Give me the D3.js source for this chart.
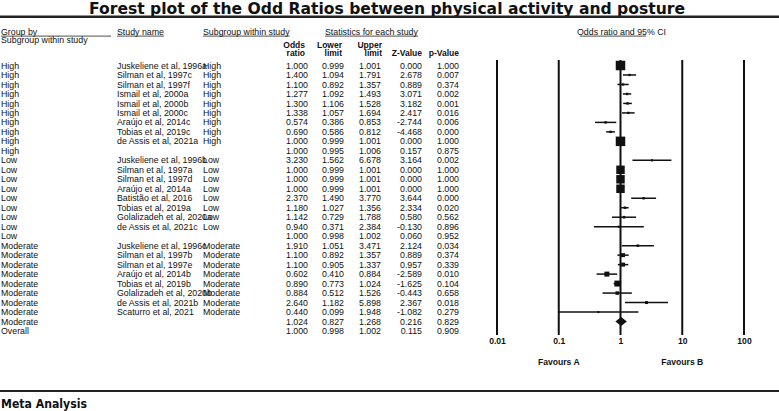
<!DOCTYPE html>
<html>
<head>
<meta charset="utf-8">
<script src="https://cdn.jsdelivr.net/npm/d3@7"></script>
<style>
  body { margin: 0; background: #fff; }
  text { font-family: "Liberation Sans", Arial, sans-serif; fill: #111; }
</style>
</head>
<body>
<div id="chart"></div>
<script>
// Data
const groupBy = [
  "High", "High", "High", "High", "High", "High", "High", "High", "High", "High",
  "Low", "Low", "Low", "Low", "Low", "Low", "Low", "Low", "Low",
  "Moderate", "Moderate", "Moderate", "Moderate", "Moderate", "Moderate", "Moderate", "Moderate", "Moderate",
  "Overall"
]
const studyNames = [
  "Juskeliene et al, 1996a", "Silman et al, 1997c", "Silman et al, 1997f", "Ismail et al, 2000a",
  "Ismail et al, 2000b", "Ismail et al, 2000c", "Araújo et al, 2014c", "Tobias et al, 2019c",
  "de Assis et al, 2021a", "",
  "Juskeliene et al, 1996b", "Silman et al, 1997a", "Silman et al, 1997d", "Araújo et al, 2014a",
  "Batistão et al, 2016", "Tobias et al, 2019a", "Golalizadeh et al, 2020a", "de Assis et al, 2021c", "",
  "Juskeliene et al, 1996c", "Silman et al, 1997b", "Silman et al, 1997e", "Araújo et al, 2014b",
  "Tobias et al, 2019b", "Golalizadeh et al, 2020b", "de Assis et al, 2021b", "Scaturro et al, 2021", "",
  ""
]
const subgroups = [
  "High", "High", "High", "High", "High", "High", "High", "High", "High", "",
  "Low", "Low", "Low", "Low", "Low", "Low", "Low", "Low", "",
  "Moderate", "Moderate", "Moderate", "Moderate", "Moderate", "Moderate", "Moderate", "Moderate", "",
  ""
]
const oddsRatio = [
  1.000, 1.400, 1.100, 1.277, 1.300, 1.338, 0.574, 0.690, 1.000, 1.000,
  3.230, 1.000, 1.000, 1.000, 2.370, 1.180, 1.142, 0.940, 1.000,
  1.910, 1.100, 1.100, 0.602, 0.890, 0.884, 2.640, 0.440, 1.024,
  1.000
]
const lowerLimit = [
  0.999, 1.094, 0.892, 1.092, 1.106, 1.057, 0.386, 0.586, 0.999, 0.995,
  1.562, 0.999, 0.999, 0.999, 1.490, 1.027, 0.729, 0.371, 0.998,
  1.051, 0.892, 0.905, 0.410, 0.773, 0.512, 1.182, 0.099, 0.827,
  0.998
]
const upperLimit = [
  1.001, 1.791, 1.357, 1.493, 1.528, 1.694, 0.853, 0.812, 1.001, 1.006,
  6.678, 1.001, 1.001, 1.001, 3.770, 1.356, 1.788, 2.384, 1.002,
  3.471, 1.357, 1.337, 0.884, 1.024, 1.526, 5.898, 1.948, 1.268,
  1.002
]
const zValue = [
  0.000, 2.678, 0.889, 3.071, 3.182, 2.417, -2.744, -4.468, 0.000, 0.157,
  3.164, 0.000, 0.000, 0.000, 3.644, 2.334, 0.580, -0.130, 0.060,
  2.124, 0.889, 0.957, -2.589, -1.625, -0.443, 2.367, -1.082, 0.216,
  0.115
]
const pValue = [
  1.000, 0.007, 0.374, 0.002, 0.001, 0.016, 0.006, 0.000, 1.000, 0.875,
  0.002, 1.000, 1.000, 1.000, 0.000, 0.020, 0.562, 0.896, 0.952,
  0.034, 0.374, 0.339, 0.010, 0.104, 0.658, 0.018, 0.279, 0.829,
  0.909
]
// relative weight within subgroup
const relWeight = [
  44, 0.2, 0.2, 0.3, 0.3, 0.2, 0.3, 0.3, 44, null,
  0.1, 33, 33, 33, 0.3, 0.3, 0.5, 0.1, null,
  0.4, 3.6, 3.6, 7.6, 13, 2.1, 1.0, 0.05, null,
  null
]
const axisTicks = [0.01, 0.1, 1, 10, 100]

const rows = groupBy.map((g, i) => ({
  i, group: g, study: studyNames[i], sub: subgroups[i],
  or: oddsRatio[i], lo: lowerLimit[i], hi: upperLimit[i],
  z: zValue[i], p: pValue[i], w: relWeight[i],
  summary: studyNames[i] === ""
}))

// Dimensions
const width = 779, height = 411
const fs = 8.8

const svg = d3.select('#chart')
  .append('svg')
  .attr('width', width)
  .attr('height', height)

svg.append('rect').attr('width', width).attr('height', height).attr('fill', '#fff')

// Title
svg.append('text')
  .attr('x', 89).attr('y', 13.5)
  .attr('textLength', 596).attr('lengthAdjust', 'spacingAndGlyphs')
  .style('font-family', '"DejaVu Sans", sans-serif')
  .style('font-weight', 'bold')
  .style('font-size', '15.5px')
  .text('Forest plot of the Odd Ratios between physical activity and posture')

svg.append('line')
  .attr('x1', 0).attr('x2', width).attr('y1', 16.8).attr('y2', 16.8)
  .attr('stroke', '#222').attr('stroke-width', 2.4)

svg.append('line')
  .attr('x1', 0).attr('x2', width).attr('y1', 391).attr('y2', 391)
  .attr('stroke', '#222').attr('stroke-width', 2.2)

svg.append('text')
  .attr('x', 1).attr('y', 407.5)
  .attr('textLength', 86).attr('lengthAdjust', 'spacingAndGlyphs')
  .style('font-family', '"DejaVu Sans", sans-serif')
  .style('font-weight', 'bold')
  .style('font-size', '11.5px')
  .text('Meta Analysis')

// Headers
const hdr = svg.append('g').style('font-size', fs + 'px')

function underlined(x, y, label, x1, x2) {
  const t = hdr.append('text').attr('x', x).attr('y', y).text(label)
  const len = t.node().getComputedTextLength()
  hdr.append('line')
    .attr('x1', x1 != null ? x1 : x).attr('x2', x2 != null ? x2 : x + len)
    .attr('y1', y + 1.6).attr('y2', y + 1.6)
    .attr('stroke', '#222').attr('stroke-width', 0.8)
}
underlined(1, 34.5, 'Group by', 1, 111)
underlined(117, 34.5, 'Study name')
underlined(203, 34.5, 'Subgroup within study')
underlined(325, 34.5, 'Statistics for each study')
underlined(577, 34.5, 'Odds ratio and 95% CI', 580, 646)

hdr.append('text').attr('x', 1).attr('y', 42.7).text('Subgroup within study')

const colRight = [308, 344, 381, 422, 459]
const colHead = [['Odds', 'ratio'], ['Lower', 'limit'], ['Upper', 'limit'], ['', 'Z-Value'], ['', 'p-Value']]
const headRight = [305, 342, 382, 422, 459]
colHead.forEach((h, k) => {
  h.forEach((s, j) => {
    hdr.append('text')
      .attr('x', headRight[k]).attr('y', j === 0 ? 48 : 56)
      .attr('text-anchor', 'end')
      .style('font-weight', 'bold')
      .style('font-size', '8.5px')
      .text(s)
  })
})

// Scales
const xScale = d3.scaleLog()
  .domain([0.01, 100])
  .range([497, 744])

const yScale = d3.scalePoint()
  .domain(d3.range(rows.length))
  .range([65.5, 331])

const sizeScale = d3.scaleSqrt()
  .domain([0, 50])
  .range([1.8, 10])
  .clamp(true)

// Table
const tbl = svg.append('g').style('font-size', fs + 'px')
const rowG = tbl.selectAll('g.row')
  .data(rows)
  .join('g')
  .attr('class', 'row')
  .attr('transform', d => `translate(0, ${yScale(d.i)})`)

rowG.append('text').attr('x', 1).attr('dy', '0.35em').text(d => d.group)
rowG.append('text').attr('x', 117).attr('dy', '0.35em').text(d => d.study)
rowG.append('text').attr('x', 203).attr('dy', '0.35em').text(d => d.sub)

const fmt = v => v.toFixed(3)
const cols = [d => d.or, d => d.lo, d => d.hi, d => d.z, d => d.p]
cols.forEach((acc, k) => {
  rowG.append('text')
    .attr('x', colRight[k])
    .attr('dy', '0.35em')
    .attr('text-anchor', 'end')
    .text(d => fmt(acc(d)))
})

// Forest plot
const plot = svg.append('g')

plot.selectAll('line.grid')
  .data(axisTicks)
  .join('line')
  .attr('class', 'grid')
  .attr('x1', d => xScale(d)).attr('x2', d => xScale(d))
  .attr('y1', 60).attr('y2', 335)
  .attr('stroke', '#111').attr('stroke-width', 2)

const studies = rows.filter(d => !d.summary)
const summaries = rows.filter(d => d.summary)

plot.selectAll('line.ci')
  .data(studies)
  .join('line')
  .attr('class', 'ci')
  .attr('x1', d => xScale(d.lo)).attr('x2', d => xScale(d.hi))
  .attr('y1', d => yScale(d.i)).attr('y2', d => yScale(d.i))
  .attr('stroke', '#111').attr('stroke-width', 1.5)

plot.selectAll('rect.box')
  .data(studies)
  .join('rect')
  .attr('class', 'box')
  .attr('x', d => xScale(d.or) - sizeScale(d.w) / 2)
  .attr('y', d => yScale(d.i) - sizeScale(d.w) / 2)
  .attr('width', d => sizeScale(d.w))
  .attr('height', d => sizeScale(d.w))
  .attr('fill', '#111')

plot.selectAll('path.diamond')
  .data(summaries)
  .join('path')
  .attr('class', 'diamond')
  .attr('d', d => {
    const cy = yScale(d.i), h = 4.5
    return `M${xScale(d.lo)},${cy}L${xScale(d.or)},${cy - h}L${xScale(d.hi)},${cy}L${xScale(d.or)},${cy + h}Z`
  })
  .attr('fill', '#111')

// Axis
const xAxis = d3.axisBottom(xScale)
  .tickValues(axisTicks)
  .tickFormat(d3.format('~g'))
  .tickSize(0)
  .tickPadding(3)

const xAxisGroup = plot.append('g')
  .attr('transform', 'translate(0, 335)')
  .call(xAxis)

xAxisGroup.select('.domain').remove()
xAxisGroup.selectAll('text')
  .style('font-family', '"Liberation Sans", Arial, sans-serif')
  .style('font-size', '8.6px')
  .style('font-weight', 'bold')
  .attr('fill', '#111')

plot.append('text')
  .attr('x', xScale(0.1)).attr('y', 365)
  .attr('text-anchor', 'middle')
  .style('font-size', '8.6px').style('font-weight', 'bold')
  .text('Favours A')

plot.append('text')
  .attr('x', xScale(10)).attr('y', 365)
  .attr('text-anchor', 'middle')
  .style('font-size', '8.6px').style('font-weight', 'bold')
  .text('Favours B')
</script>
</body>
</html>
